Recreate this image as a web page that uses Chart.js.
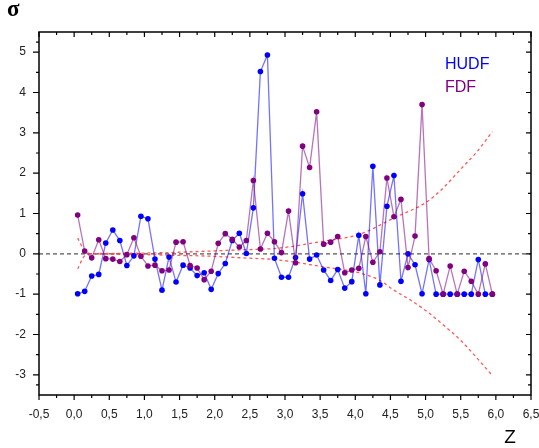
<!DOCTYPE html>
<html>
<head>
<meta charset="utf-8">
<script src="https://cdn.jsdelivr.net/npm/chart.js@4/dist/chart.umd.min.js"></script>
<style>
  body { margin: 0; background: #fff; }
  #chart_box { width: 539px; height: 448px; }
</style>
</head>
<body>
<div id="chart_box"><canvas id="sigma_chart" width="539" height="448"></canvas></div>
<script>
// redshift bins (same for both fields)
const z_values = [0.05, 0.15, 0.25, 0.35, 0.45, 0.55, 0.65, 0.75, 0.85, 0.95,
                  1.05, 1.15, 1.25, 1.35, 1.45, 1.55, 1.65, 1.75, 1.85, 1.95,
                  2.05, 2.15, 2.25, 2.35, 2.45, 2.55, 2.65, 2.75, 2.85, 2.95,
                  3.05, 3.15, 3.25, 3.35, 3.45, 3.55, 3.65, 3.75, 3.85, 3.95,
                  4.05, 4.15, 4.25, 4.35, 4.45, 4.55, 4.65, 4.75, 4.85, 4.95,
                  5.05, 5.15, 5.25, 5.35, 5.45, 5.55, 5.65, 5.75, 5.85, 5.95];

const hudf_sigma = [-0.99, -0.93, -0.55, -0.51, 0.27, 0.59, 0.33, -0.29, -0.05, 0.93,
                    0.87, -0.13, -0.90, -0.08, -0.70, -0.28, -0.35, -0.54, -0.47, -0.88,
                    -0.49, -0.24, 0.33, 0.51, 0.01, 1.14, 4.52, 4.93, -0.11, -0.58,
                    -0.58, -0.09, 1.49, -0.13, -0.03, -0.40, -0.66, -0.39, -0.85, -0.69,
                    0.46, -0.99, 2.17, -0.77, 1.18, 1.94, -0.68, 0.00, -0.27, -0.99,
                    -0.14, -1, -1, -1, -1, -1, -1, -0.14, -1, -1];

const fdf_sigma = [0.96, 0.07, -0.10, 0.35, -0.12, -0.13, -0.19, -0.02, 0.40, -0.06,
                   -0.30, -0.28, -0.42, -0.40, 0.29, 0.30, -0.29, -0.35, -0.64, -0.43,
                   0.26, 0.50, 0.36, 0.17, 0.33, 1.82, 0.12, 0.51, 0.30, 0.03,
                   1.06, -0.22, 2.67, 2.14, 3.52, 0.24, 0.29, 0.43, -0.47, -0.40,
                   -0.36, 0.43, -0.21, 0.05, 1.88, 0.92, 1.35, -0.34, 0.44, 3.70,
                   -0.12, -0.42, -1, -0.30, -1, -0.43, -0.68, -1, -0.25, -1];

// red dashed envelope
const upper_z = [0.05, 0.15, 0.25, 0.5, 1.0, 1.5, 1.8, 2.4, 2.9, 3.5, 4.07, 4.54, 5.02, 5.25, 5.49, 5.73, 5.95];
const upper_sigma = [-0.37, -0.05, 0.0, 0.01, 0.02, 0.04, 0.06, 0.10, 0.14, 0.30, 0.49, 0.88, 1.29, 1.63, 2.08, 2.53, 3.03];
const lower_z = [0.05, 0.15, 0.25, 0.5, 1.0, 1.5, 1.8, 2.4, 2.9, 3.5, 4.07, 4.35, 4.54, 4.78, 5.02, 5.25, 5.49, 5.73, 5.95];
const lower_sigma = [0.39, 0.08, 0.0, -0.01, -0.02, -0.04, -0.05, -0.10, -0.15, -0.31, -0.48, -0.66, -0.89, -1.14, -1.43, -1.76, -2.13, -2.58, -3.02];

const zero_line_z = [-0.5, 6.5];
const zero_line_sigma = [0, 0];

const x_tick_values = [-0.5, 0, 0.5, 1, 1.5, 2, 2.5, 3, 3.5, 4, 4.5, 5, 5.5, 6, 6.5];
const y_tick_values = [-3, -2, -1, 0, 1, 2, 3, 4, 5];

const legend_items = [["HUDF", "#0000ff"], ["FDF", "#800080"]];

function toPoints(xs, ys) {
    return xs.map((x, i) => ({x: x, y: ys[i]}));
}

function minorTicks(values) {
    // halfway between every pair of major ticks
    const out = [];
    for (let i = 0; i < values.length - 1; i++) {
        out.push((values[i] + values[i + 1]) / 2);
    }
    return out;
}

const frame_plugin = {
    id: 'frame_plugin',
    afterDraw(chart) {
        const ctx = chart.ctx;
        const area = chart.chartArea;
        const x = chart.scales.x;
        const y = chart.scales.y;

        ctx.save();
        ctx.strokeStyle = '#000';
        ctx.lineWidth = 1.5;
        ctx.strokeRect(area.left, area.top, area.right - area.left, area.bottom - area.top);

        ctx.lineWidth = 1.2;
        ctx.beginPath();
        // bottom (outward) and top (inward)
        x_tick_values.forEach(v => {
            const px = x.getPixelForValue(v);
            ctx.moveTo(px, area.bottom); ctx.lineTo(px, area.bottom + 5);
            ctx.moveTo(px, area.top); ctx.lineTo(px, area.top + 5);
        });
        minorTicks(x_tick_values).forEach(v => {
            const px = x.getPixelForValue(v);
            ctx.moveTo(px, area.bottom); ctx.lineTo(px, area.bottom + 3);
            ctx.moveTo(px, area.top); ctx.lineTo(px, area.top + 3);
        });
        // left (outward) and right (inward)
        const y_all = [-3.5].concat(y_tick_values, [5.5]);
        y_tick_values.forEach(v => {
            const py = y.getPixelForValue(v);
            ctx.moveTo(area.left, py); ctx.lineTo(area.left - 6, py);
            ctx.moveTo(area.right, py); ctx.lineTo(area.right - 5, py);
        });
        minorTicks(y_all).forEach(v => {
            if (Number.isInteger(v)) return;
            const py = y.getPixelForValue(v);
            ctx.moveTo(area.left, py); ctx.lineTo(area.left - 3, py);
            ctx.moveTo(area.right, py); ctx.lineTo(area.right - 3, py);
        });
        ctx.stroke();

        // axis titles
        ctx.fillStyle = '#000';
        ctx.textBaseline = 'alphabetic';
        ctx.font = 'bold 23px "Liberation Serif"';
        ctx.textAlign = 'left';
        ctx.fillText('σ', 7, 16);
        ctx.font = '19px "Liberation Sans"';
        ctx.textAlign = 'center';
        ctx.fillText('Z', 510, 443);

        // legend text
        ctx.font = '16px "Liberation Sans"';
        ctx.textAlign = 'left';
        legend_items.forEach((item, i) => {
            ctx.fillStyle = item[1];
            ctx.fillText(item[0], 445, 69 + i * 23);
        });
        ctx.restore();
    }
};

const ctx = document.getElementById('sigma_chart');

new Chart(ctx, {
    type: 'line',
    data: {
        datasets: [
            {
                label: 'FDF',
                data: toPoints(z_values, fdf_sigma),
                borderColor: 'rgba(128, 0, 128, 0.55)',
                backgroundColor: '#800080',
                pointBackgroundColor: '#800080',
                pointBorderWidth: 0,
                pointRadius: 2.8,
                borderWidth: 1.3,
                tension: 0,
                order: 1
            },
            {
                label: 'HUDF',
                data: toPoints(z_values, hudf_sigma),
                borderColor: 'rgba(0, 0, 255, 0.55)',
                backgroundColor: '#0000ff',
                pointBackgroundColor: '#0000ff',
                pointBorderWidth: 0,
                pointRadius: 2.8,
                borderWidth: 1.3,
                tension: 0,
                order: 2
            },
            {
                label: 'upper',
                data: toPoints(upper_z, upper_sigma),
                borderColor: 'rgba(255, 70, 70, 0.9)',
                borderDash: [3, 3],
                borderWidth: 1.3,
                pointRadius: 0,
                cubicInterpolationMode: 'monotone',
                order: 3
            },
            {
                label: 'lower',
                data: toPoints(lower_z, lower_sigma),
                borderColor: 'rgba(255, 70, 70, 0.9)',
                borderDash: [3, 3],
                borderWidth: 1.3,
                pointRadius: 0,
                cubicInterpolationMode: 'monotone',
                order: 3
            },
            {
                label: 'zero',
                data: toPoints(zero_line_z, zero_line_sigma),
                borderColor: '#555',
                borderDash: [4, 3],
                borderWidth: 1.4,
                pointRadius: 0,
                order: 4
            }
        ]
    },
    options: {
        responsive: false,
        animation: false,
        parsing: false,
        layout: { padding: { left: 0, top: 32, right: 8, bottom: 0 } },
        plugins: {
            legend: { display: false },
            tooltip: { enabled: false }
        },
        scales: {
            x: {
                type: 'linear',
                min: -0.5,
                max: 6.5,
                afterBuildTicks: (scale) => { scale.ticks = x_tick_values.map(v => ({value: v})); },
                afterFit: (scale) => { scale.height = 53; scale.paddingLeft = 0; scale.paddingRight = 0; },
                grid: { drawOnChartArea: false, color: 'transparent', tickLength: 5 },
                border: { display: false },
                ticks: {
                    padding: 7,
                    color: '#222',
                    font: { family: 'Liberation Sans', size: 12 },
                    maxRotation: 0,
                    autoSkip: false,
                    callback: (v) => v.toFixed(1).replace('.', ',')
                }
            },
            y: {
                type: 'linear',
                min: -3.5,
                max: 5.5,
                afterBuildTicks: (scale) => { scale.ticks = y_tick_values.map(v => ({value: v})); },
                afterFit: (scale) => { scale.width = 39; scale.paddingTop = 0; scale.paddingBottom = 0; },
                grid: { drawOnChartArea: false, color: 'transparent', tickLength: 6 },
                border: { display: false },
                ticks: {
                    padding: 7,
                    color: '#222',
                    font: { family: 'Liberation Sans', size: 12 },
                    autoSkip: false,
                    callback: (v) => String(v)
                }
            }
        }
    },
    plugins: [frame_plugin]
});
</script>
</body>
</html>
